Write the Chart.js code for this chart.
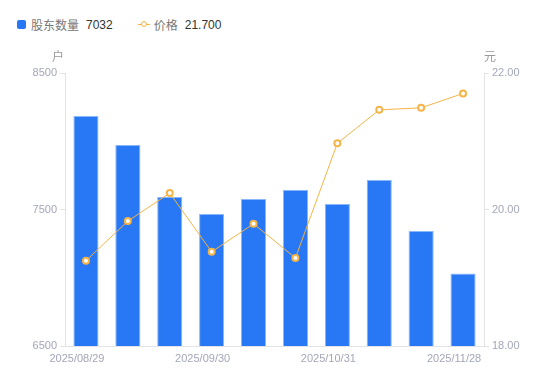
<!DOCTYPE html>
<html>
<head>
<meta charset="utf-8">
<script src="https://cdn.jsdelivr.net/npm/chart.js@4"></script>
<style>
  html, body { margin: 0; padding: 0; background: #fff; }
  body { width: 550px; height: 381px; position: relative; overflow: hidden;
         font-family: "Liberation Sans", "Noto Sans CJK SC", sans-serif; }
  #legend { position: absolute; left: 17px; top: 16px; font-size: 12px; display: flex; align-items: center; }
  .item { display: flex; align-items: center; margin-right: 25px; }
  .sw-bar { width: 9px; height: 9px; background: #2878f5; border-radius: 2px; margin-right: 5px; }
  .sw-line { position: relative; width: 12px; height: 9px; margin-right: 4px; }
  .sw-line::before { content: ""; position: absolute; left: 0; right: 0; top: 4px; height: 1px; background: #f5b447; }
  .sw-line::after { content: ""; position: absolute; left: 3px; top: 1px; width: 4px; height: 4px;
                    border: 1.5px solid #f5b447; border-radius: 50%; background: #fff; }
  .lab { color: #777; margin-right: 7px; }
  .val { color: #333; }
  #wrap { position: absolute; left: 0; top: 0; width: 550px; height: 381px; }
</style>
</head>
<body>
<div id="legend">
  <div class="item"><span class="sw-bar"></span><span class="lab">股东数量</span><span class="val">7032</span></div>
  <div class="item"><span class="sw-line"></span><span class="lab">价格</span><span class="val">21.700</span></div>
</div>
<div id="wrap"><canvas id="c" width="550" height="381"></canvas></div>
<script>
// data
const dates = ['2025/08/29', '2025/09/10', '2025/09/19', '2025/09/30', '2025/10/10',
               '2025/10/20', '2025/10/31', '2025/11/10', '2025/11/20', '2025/11/28'];
const holders = [8185, 7973, 7592, 7467, 7577, 7643, 7540, 7716, 7342, 7032];
const prices = [19.25, 19.83, 20.24, 19.38, 19.79, 19.29, 20.97, 21.46, 21.49, 21.70];
const leftTicks = [6500, 7500, 8500];
const rightTicks = [18, 20, 22];

const axisGray = '#a3a6b8';
const lineGray = '#e3e3e6';
const font = { family: '"Liberation Sans", "Noto Sans CJK SC", sans-serif', size: 11 };

// unit labels above both y axes
const unitTitles = {
    id: 'unitTitles',
    afterDraw(chart) {
        const ctx = chart.ctx;
        const area = chart.chartArea;
        ctx.save();
        ctx.fillStyle = '#999';
        ctx.font = '12px "Noto Sans CJK SC", sans-serif';
        ctx.textAlign = 'center';
        ctx.textBaseline = 'middle';
        ctx.fillText('户', area.left - 7, area.top - 17);
        ctx.fillText('元', area.right + 6, area.top - 17);
        ctx.restore();
    }
};

new Chart(document.getElementById('c'), {
    data: {
        labels: dates,
        datasets: [
            {
                type: 'line',
                label: '价格',
                data: prices,
                yAxisID: 'y1',
                borderColor: '#f5b447',
                borderWidth: 1,
                pointRadius: 3,
                pointBorderWidth: 2,
                pointBackgroundColor: '#fff',
                pointBorderColor: '#f5b447',
                tension: 0,
                order: 0
            },
            {
                type: 'bar',
                label: '股东数量',
                data: holders,
                yAxisID: 'y',
                backgroundColor: '#2878f5',
                borderColor: '#8ab6fa',
                borderWidth: 1,
                categoryPercentage: 1,
                barPercentage: 0.6,
                order: 1
            }
        ]
    },
    options: {
        responsive: false,
        animation: false,
        layout: { padding: { top: 73, bottom: 0, left: 0, right: 0 } },
        plugins: { legend: { display: false }, tooltip: { enabled: false } },
        scales: {
            x: {
                offset: true,
                grid: { display: false, drawTicks: false },
                border: { display: true, color: lineGray },
                ticks: {
                    autoSkip: false,
                    maxRotation: 0,
                    color: axisGray,
                    font: font,
                    padding: 6,
                    labelOffset: -9,
                    callback: (v, i) => (i % 3 === 0 ? dates[i] : '')
                },
                afterFit: s => { s.height = 35; }
            },
            y: {
                position: 'left',
                min: 6500, max: 8500,
                afterBuildTicks: s => { s.ticks = leftTicks.map(v => ({ value: v })); },
                grid: { drawOnChartArea: false, tickLength: 5, color: lineGray },
                border: { color: lineGray },
                ticks: { color: axisGray, font: font, padding: 3, callback: v => String(v) },
                afterFit: s => { s.width = 65; }
            },
            y1: {
                position: 'right',
                min: 18, max: 22,
                afterBuildTicks: s => { s.ticks = rightTicks.map(v => ({ value: v })); },
                grid: { drawOnChartArea: false, tickLength: 5, color: lineGray },
                border: { color: lineGray },
                ticks: { color: axisGray, font: font, padding: 3, callback: v => v.toFixed(2) },
                afterFit: s => { s.width = 66; }
            }
        }
    },
    plugins: [unitTitles]
});
</script>
</body>
</html>
